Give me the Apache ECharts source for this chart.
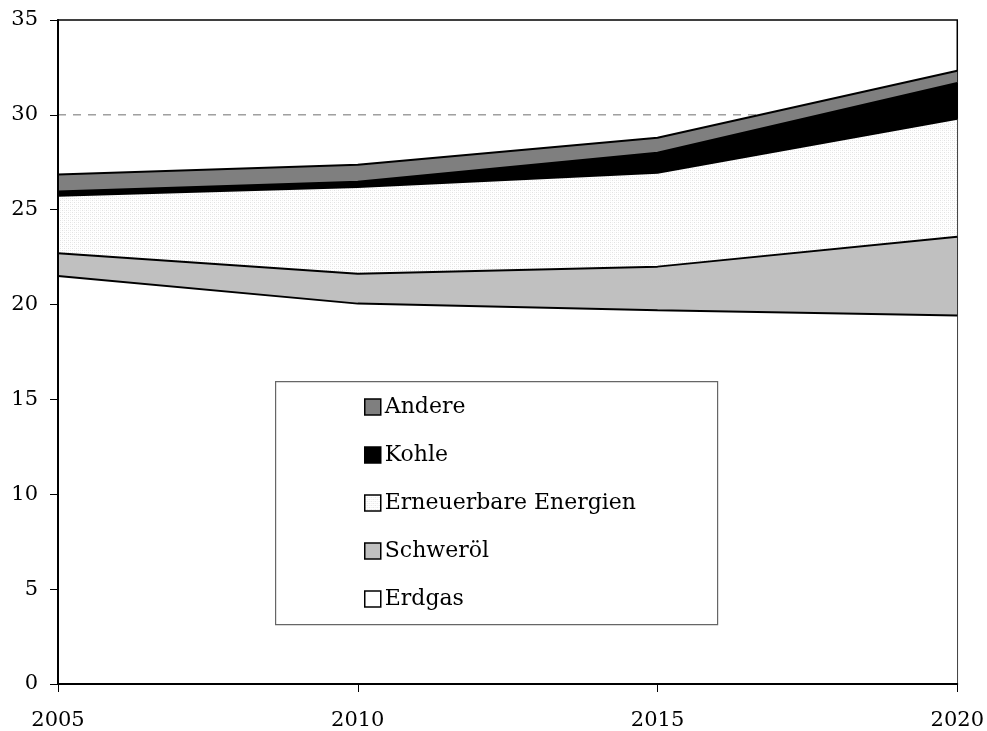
<!DOCTYPE html>
<html>
<head>
<meta charset="utf-8">
<script src="https://cdn.jsdelivr.net/npm/echarts@6/dist/echarts.min.js"></script>
<style>html,body{margin:0;padding:0;background:#fff;}#c{width:987px;height:731px;}</style>
</head>
<body>
<div id="c"></div>
<script>
const years = ['2005', '2010', '2015', '2020'];
const erdgas = [21.5, 20.05, 19.7, 19.42];
const schweroel = [1.2, 1.58, 2.3, 4.16];
const erneuerbare = [3.04, 4.57, 4.95, 6.21];
const kohle = [0.22, 0.27, 1.05, 1.89];
const andere = [0.89, 0.9, 0.79, 0.64];
const refLine = [30, 30, 30, 30];
const legendOrder = ['Andere', 'Kohle', 'Erneuerbare Energien', 'Schweröl', 'Erdgas'];

// light hatch pattern for renewables
const pc = document.createElement('canvas');
pc.width = 4; pc.height = 4;
const pctx = pc.getContext('2d');
pctx.fillStyle = '#ffffff'; pctx.fillRect(0, 0, 4, 4);
pctx.fillStyle = '#e2e2e2';
pctx.fillRect(0, 0, 1, 1); pctx.fillRect(2, 2, 1, 1);
pctx.fillStyle = '#f0f0f0';
pctx.fillRect(2, 0, 1, 1); pctx.fillRect(0, 2, 1, 1);
const hatch = { image: pc, repeat: 'repeat' };

const FONT = 'DejaVu Serif';
function mk(name, data, fill) {
  return {
    name: name, type: 'line', stack: 'total', data: data,
    showSymbol: false, symbol: 'none', smooth: false,
    itemStyle: { color: fill },
    lineStyle: { color: '#000', width: 2 },
    areaStyle: { color: fill, opacity: 1 },
    emphasis: { disabled: true },
    z: 3
  };
}

const chart = echarts.init(document.getElementById('c'), null, { renderer: 'canvas' });
chart.setOption({
  animation: false,
  backgroundColor: '#fff',
  grid: { left: 58, right: 26, top: 20, bottom: 46, show: true, borderColor: '#000', borderWidth: 1.5, backgroundColor: 'transparent' },
  xAxis: {
    type: 'category', data: years, boundaryGap: false,
    axisLine: { lineStyle: { color: '#000', width: 2 } },
    axisTick: { show: true, length: 8, lineStyle: { color: '#000', width: 1 } },
    axisLabel: { color: '#000', fontFamily: FONT, fontSize: 21, margin: 26 },
    splitLine: { show: false },
    z: 6
  },
  yAxis: {
    type: 'value', min: 0, max: 35, interval: 5,
    axisLine: { show: true, lineStyle: { color: '#000', width: 2 } },
    axisTick: { show: true, length: 8, lineStyle: { color: '#000', width: 1 } },
    axisLabel: { color: '#000', fontFamily: FONT, fontSize: 21, margin: 20 },
    splitLine: { show: false },
    z: 6
  },
  legend: {
    orient: 'vertical', left: 364, top: 396, padding: 0,
    itemWidth: 16, itemHeight: 16, itemGap: 26,
    icon: 'rect',
    itemStyle: { borderColor: '#000', borderWidth: 1.5 },
    textStyle: { color: '#000', fontFamily: FONT, fontSize: 22, padding: [0, 0, 0, -1] },
    data: legendOrder,
    selectedMode: false,
    z: 12
  },
  graphic: [{
    type: 'rect', left: 275, top: 381, z: 10,
    shape: { width: 442, height: 243 },
    style: { fill: '#fff', stroke: '#666', lineWidth: 1.2 }
  }],
  series: [
    {
      name: 'ref', type: 'line', data: refLine, symbol: 'none', showSymbol: false,
      lineStyle: { color: '#6e6e6e', width: 1, type: [8, 7] },
      silent: true, z: 1
    },
    mk('Erdgas', erdgas, '#ffffff'),
    mk('Schweröl', schweroel, '#c0c0c0'),
    mk('Erneuerbare Energien', erneuerbare, hatch),
    mk('Kohle', kohle, '#000000'),
    mk('Andere', andere, '#7f7f7f')
  ]
});
</script>
</body>
</html>
